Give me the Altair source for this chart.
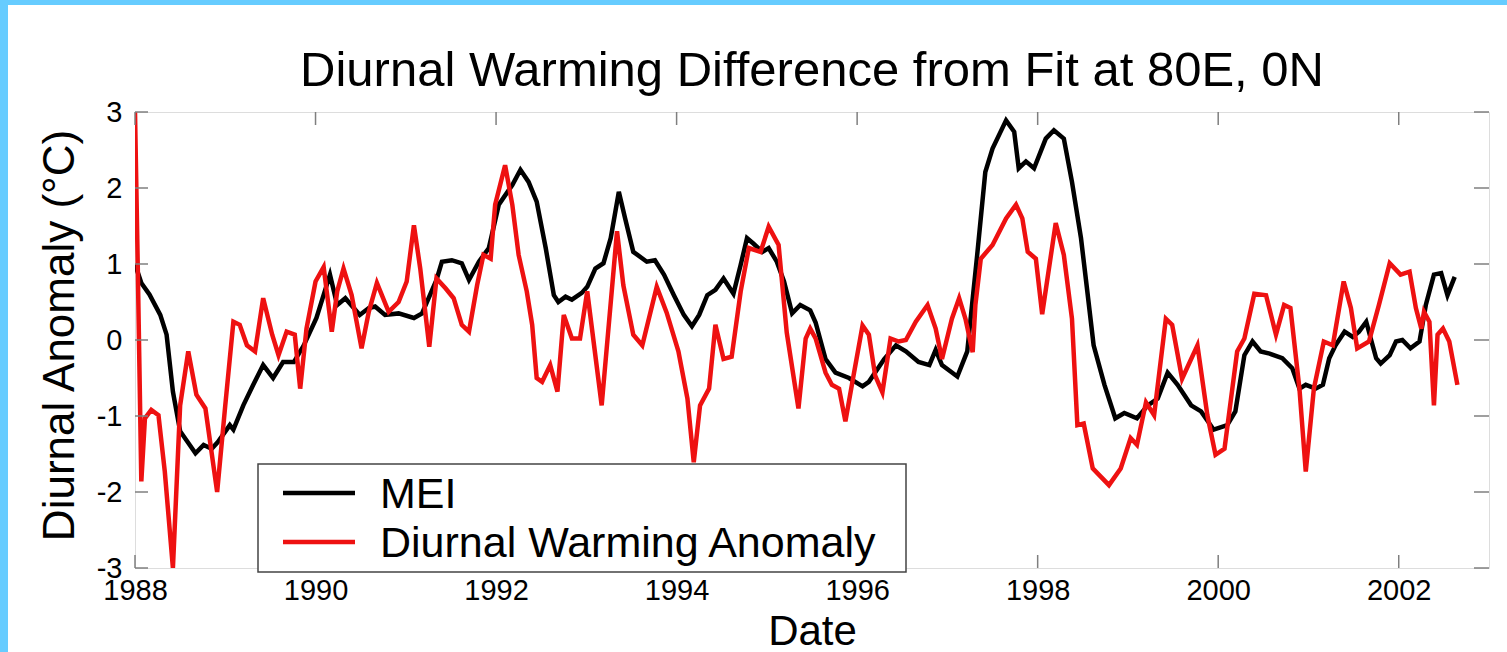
import altair as alt
import pandas as pd

# ---------------- data ----------------
mei_year = [1988.00, 1988.07, 1988.16, 1988.28, 1988.35, 1988.42, 1988.50, 1988.67, 1988.76, 1988.85,
            1988.92, 1989.05, 1989.09, 1989.20, 1989.31, 1989.42, 1989.53, 1989.64, 1989.76, 1989.87,
            1990.01, 1990.16, 1990.24, 1990.33, 1990.49, 1990.59, 1990.66, 1990.77, 1990.92, 1991.09,
            1991.18, 1991.34, 1991.40, 1991.51, 1991.62, 1991.70, 1991.81, 1991.92, 1992.03, 1992.18,
            1992.27, 1992.36, 1992.45, 1992.55, 1992.64, 1992.69, 1992.77, 1992.84, 1992.95, 1993.01,
            1993.10, 1993.19, 1993.27, 1993.36, 1993.43, 1993.52, 1993.67, 1993.76, 1993.86, 1993.97,
            1994.08, 1994.17, 1994.25, 1994.34, 1994.43, 1994.52, 1994.63, 1994.71, 1994.78, 1994.85,
            1994.95, 1995.02, 1995.11, 1995.19, 1995.28, 1995.37, 1995.48, 1995.54, 1995.65, 1995.76,
            1995.91, 1996.06, 1996.13, 1996.30, 1996.43, 1996.54, 1996.68, 1996.80, 1996.87, 1996.94,
            1997.11, 1997.22, 1997.33, 1997.42, 1997.50, 1997.65, 1997.74, 1997.79, 1997.87, 1997.96,
            1998.09, 1998.18, 1998.29, 1998.38, 1998.48, 1998.55, 1998.62, 1998.74, 1998.86, 1998.96,
            1999.10, 1999.22, 1999.33, 1999.44, 1999.55, 1999.70, 1999.81, 1999.95, 2000.10, 2000.19,
            2000.29, 2000.38, 2000.47, 2000.57, 2000.71, 2000.82, 2000.90, 2000.97, 2001.08, 2001.16,
            2001.23, 2001.30, 2001.40, 2001.49, 2001.56, 2001.64, 2001.69, 2001.75, 2001.80, 2001.90,
            2001.97, 2002.04, 2002.13, 2002.23, 2002.30, 2002.39, 2002.47, 2002.54, 2002.62]
mei_value = [1.00, 0.75, 0.60, 0.33, 0.07, -0.68, -1.20, -1.49, -1.38, -1.43,
             -1.34, -1.12, -1.18, -0.86, -0.59, -0.33, -0.50, -0.29, -0.29, -0.07,
             0.29, 0.86, 0.46, 0.55, 0.33, 0.42, 0.44, 0.33, 0.35, 0.29,
             0.35, 0.79, 1.03, 1.05, 1.01, 0.79, 1.03, 1.21, 1.78, 2.04,
             2.24, 2.08, 1.82, 1.21, 0.59, 0.50, 0.57, 0.53, 0.62, 0.70,
             0.94, 1.01, 1.34, 1.95, 1.60, 1.16, 1.03, 1.05, 0.86, 0.59,
             0.33, 0.18, 0.33, 0.59, 0.66, 0.81, 0.61, 0.99, 1.34, 1.27,
             1.16, 1.21, 1.03, 0.77, 0.35, 0.46, 0.39, 0.23, -0.25, -0.43,
             -0.50, -0.61, -0.55, -0.25, -0.07, -0.15, -0.29, -0.33, -0.13, -0.33,
             -0.48, -0.15, 1.12, 2.21, 2.52, 2.89, 2.74, 2.26, 2.35, 2.26,
             2.65, 2.76, 2.65, 2.08, 1.34, 0.64, -0.07, -0.59, -1.03, -0.96,
             -1.03, -0.86, -0.77, -0.43, -0.59, -0.86, -0.94, -1.18, -1.12, -0.94,
             -0.20, -0.02, -0.15, -0.18, -0.24, -0.37, -0.64, -0.59, -0.64, -0.59,
             -0.24, -0.07, 0.11, 0.04, 0.11, 0.24, 0.02, -0.24, -0.31, -0.20,
             -0.02, 0.00, -0.11, -0.02, 0.46, 0.86, 0.88, 0.59, 0.83]

dwa_year = [1988.00, 1988.03, 1988.07, 1988.11, 1988.18, 1988.26, 1988.33, 1988.42, 1988.50, 1988.59,
            1988.68, 1988.78, 1988.91, 1989.00, 1989.09, 1989.16, 1989.24, 1989.33, 1989.42, 1989.52,
            1989.59, 1989.68, 1989.77, 1989.83, 1989.90, 1990.00, 1990.09, 1990.18, 1990.24, 1990.31,
            1990.40, 1990.51, 1990.59, 1990.68, 1990.81, 1990.92, 1991.01, 1991.09, 1991.16, 1991.26,
            1991.34, 1991.44, 1991.53, 1991.62, 1991.70, 1991.79, 1991.86, 1991.94, 1991.99, 1992.10,
            1992.18, 1992.25, 1992.34, 1992.40, 1992.45, 1992.51, 1992.60, 1992.68, 1992.75, 1992.84,
            1992.93, 1993.01, 1993.17, 1993.34, 1993.41, 1993.52, 1993.62, 1993.78, 1993.89, 1994.02,
            1994.12, 1994.19, 1994.26, 1994.36, 1994.43, 1994.52, 1994.61, 1994.71, 1994.80, 1994.93,
            1995.02, 1995.13, 1995.22, 1995.35, 1995.43, 1995.48, 1995.54, 1995.65, 1995.72, 1995.80,
            1995.87, 1995.96, 1996.06, 1996.13, 1996.20, 1996.28, 1996.37, 1996.46, 1996.54, 1996.65,
            1996.78, 1996.87, 1996.94, 1997.05, 1997.13, 1997.20, 1997.28, 1997.31, 1997.37, 1997.50,
            1997.65, 1997.76, 1997.83, 1997.89, 1997.98, 1998.05, 1998.20, 1998.29, 1998.38, 1998.44,
            1998.51, 1998.61, 1998.79, 1998.92, 1999.03, 1999.10, 1999.20, 1999.29, 1999.42, 1999.49,
            1999.60, 1999.77, 1999.88, 1999.97, 2000.07, 2000.21, 2000.29, 2000.40, 2000.53, 2000.64,
            2000.73, 2000.80, 2000.90, 2000.97, 2001.06, 2001.17, 2001.27, 2001.39, 2001.47, 2001.54,
            2001.67, 2001.78, 2001.90, 2002.02, 2002.12, 2002.19, 2002.25, 2002.28, 2002.34, 2002.39,
            2002.43, 2002.49, 2002.56, 2002.65]
dwa_value = [3.00, 1.00, -1.86, -1.03, -0.92, -0.99, -1.73, -3.00, -0.86, -0.15,
             -0.72, -0.90, -2.00, -0.86, 0.24, 0.20, -0.07, -0.15, 0.55, 0.07,
             -0.20, 0.11, 0.07, -0.64, 0.15, 0.77, 0.96, 0.11, 0.64, 0.94,
             0.59, -0.11, 0.37, 0.75, 0.37, 0.50, 0.77, 1.51, 0.94, -0.09,
             0.81, 0.68, 0.55, 0.20, 0.11, 0.72, 1.12, 1.07, 1.78, 2.30,
             1.78, 1.12, 0.64, 0.20, -0.50, -0.55, -0.33, -0.68, 0.33, 0.02,
             0.02, 0.64, -0.86, 1.43, 0.72, 0.07, -0.07, 0.70, 0.36, -0.15,
             -0.77, -1.61, -0.86, -0.64, 0.20, -0.25, -0.22, 0.64, 1.21, 1.16,
             1.49, 1.25, 0.10, -0.90, 0.02, 0.15, 0.02, -0.43, -0.59, -0.64,
             -1.07, -0.47, 0.19, 0.07, -0.47, -0.69, 0.02, -0.02, 0.00, 0.24,
             0.46, 0.15, -0.25, 0.28, 0.55, 0.28, -0.16, 0.46, 1.07, 1.25,
             1.60, 1.78, 1.60, 1.16, 1.07, 0.34, 1.54, 1.12, 0.28, -1.12,
             -1.10, -1.69, -1.91, -1.69, -1.29, -1.38, -0.82, -0.99, 0.28, 0.20,
             -0.51, -0.07, -0.99, -1.51, -1.43, -0.15, 0.02, 0.61, 0.59, 0.07,
             0.46, 0.42, -0.64, -1.73, -0.64, -0.02, -0.07, 0.77, 0.42, -0.11,
             -0.02, 0.46, 1.01, 0.86, 0.90, 0.42, 0.15, 0.37, 0.24, -0.86,
             0.07, 0.15, -0.02, -0.59]

x_ticks = [1988, 1990, 1992, 1994, 1996, 1998, 2000, 2002]
y_ticks = [-3, -2, -1, 0, 1, 2, 3]
legend_labels = ["MEI", "Diurnal Warming Anomaly"]
legend_colors = ["#000000", "#ee1111"]

TITLE = "Diurnal Warming Difference from Fit at 80E, 0N"
X_TITLE = "Date"
Y_TITLE = "Diurnal Anomaly (\u00b0C)"

# ---------------- layout ----------------
W, H = 1354, 456
FONT = "Liberation Sans"
GRAY = "#7f7f7f"
BLUE = "#66ccff"

mei = pd.DataFrame({"year": mei_year, "value": mei_value})
dwa = pd.DataFrame({"year": dwa_year, "value": dwa_value})
xt = pd.DataFrame({"year": x_ticks})
yt = pd.DataFrame({"value": y_ticks})
one = pd.DataFrame({"a": [0]})

xscale = alt.Scale(domain=[1988, 2003], nice=False, zero=False)
yscale = alt.Scale(domain=[-3, 3], nice=False, zero=False)

xaxis = alt.Axis(values=x_ticks, format="d", ticks=False, tickSize=0, domain=False, grid=False,
                 labelFontSize=29, labelPadding=8, labelFlush=False, labelColor="black",
                 labelFont=FONT, title=X_TITLE, titleFontSize=42, titleFont=FONT,
                 titleFontWeight="normal", titleColor="black", titleBaseline="alphabetic",
                 titleY=76)
yaxis = alt.Axis(values=y_ticks, labelExpr="'' + datum.value", ticks=False, tickSize=0,
                 domain=False, grid=False, labelFontSize=29, labelPadding=13, labelFlush=False,
                 labelColor="black", labelFont=FONT, title=Y_TITLE, titleFontSize=44,
                 titleFont=FONT, titleFontWeight="normal", titleColor="black",
                 titleAngle=270, titleBaseline="alphabetic", titleAlign="center",
                 titleX=-62, titleY=223)

X = alt.X("year:Q", scale=xscale, axis=xaxis)
Y = alt.Y("value:Q", scale=yscale, axis=yaxis)

band_left = alt.Chart(one).mark_rect(color=BLUE).encode(
    x=alt.value(-135), x2=alt.value(-127), y=alt.value(-112), y2=alt.value(H + 84))
band_top = alt.Chart(one).mark_rect(color=BLUE).encode(
    x=alt.value(-135), x2=alt.value(W + 18), y=alt.value(-112), y2=alt.value(-107))

mei_line = alt.Chart(mei).mark_line(color=legend_colors[0], strokeWidth=4.5, clip=True).encode(
    x=X, y=Y, order="year:Q")
dwa_line = alt.Chart(dwa).mark_line(color=legend_colors[1], strokeWidth=4.5, clip=True).encode(
    x=X, y=Y, order="year:Q")

tick_style = dict(color=GRAY, strokeWidth=1.5)
top_ticks = alt.Chart(xt).mark_rule(**tick_style).encode(
    x=X, y=alt.value(0), y2=alt.value(13))
bottom_ticks = alt.Chart(xt).mark_rule(**tick_style).encode(
    x=X, y=alt.value(H - 13), y2=alt.value(H))
left_ticks = alt.Chart(yt).mark_rule(**tick_style).encode(
    y=Y, x=alt.value(0), x2=alt.value(13))
right_ticks = alt.Chart(yt).mark_rule(**tick_style).encode(
    y=Y, x=alt.value(W - 15), x2=alt.value(W))

legend_box = alt.Chart(one).mark_rect(fill="white", stroke="#444444", strokeWidth=1.5).encode(
    x=alt.value(123), x2=alt.value(771), y=alt.value(352), y2=alt.value(460))

legend_layers = []
for i, (lab, col) in enumerate(zip(legend_labels, legend_colors)):
    ly = 381 + 49 * i
    legend_layers.append(
        alt.Chart(one).mark_rule(color=col, strokeWidth=4.5).encode(
            x=alt.value(148), x2=alt.value(220), y=alt.value(ly)))
    legend_layers.append(
        alt.Chart(one).mark_text(text=lab, font=FONT, fontSize=43, color="black",
                                 align="left", baseline="alphabetic").encode(
            x=alt.value(245), y=alt.value(ly + 15)))

chart = alt.layer(
    band_left, band_top, mei_line, dwa_line,
    top_ticks, bottom_ticks, left_ticks, right_ticks,
    legend_box, *legend_layers
).properties(
    width=W, height=H,
    title=alt.TitleParams(TITLE, font=FONT, fontSize=49, fontWeight="normal", color="black",
                          anchor="middle", frame="group", baseline="alphabetic",
                          offset=0, dy=135),
    autosize=alt.AutoSizeParams(type="none"),
    padding={"left": 135, "top": 112, "right": 18, "bottom": 84},
).configure_view(
    stroke=GRAY, strokeWidth=2
).configure(background="white")

chart.save("out.html", embed_options={"renderer": "svg", "actions": False})
